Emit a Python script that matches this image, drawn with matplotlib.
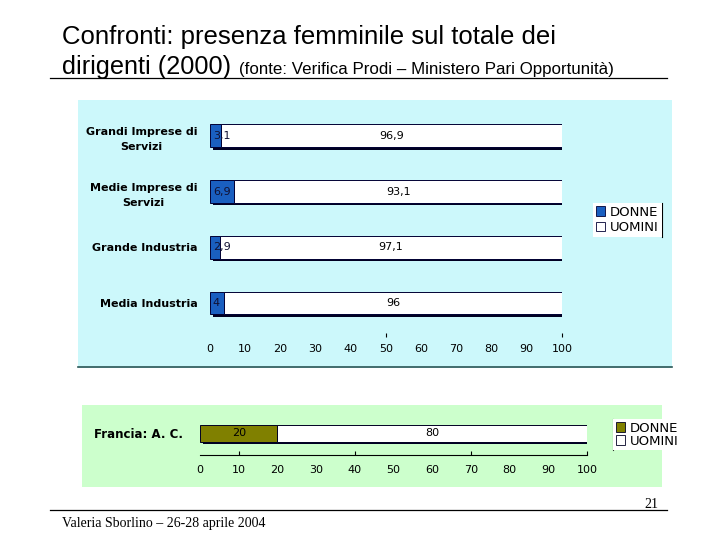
import matplotlib
matplotlib.use("Agg")
import matplotlib.pyplot as plt
import matplotlib.patheffects as pe
from matplotlib.patches import Rectangle, Patch
from matplotlib.lines import Line2D

# data
categories = ["Grandi Imprese di\nServizi", "Medie Imprese di\nServizi",
              "Grande Industria", "Media Industria"]
donne = [3.1, 6.9, 2.9, 4]
uomini = [96.9, 93.1, 97.1, 96]

fr_categories = ["Francia: A. C."]
fr_donne = [20]
fr_uomini = [80]

series_names = ["DONNE", "UOMINI"]
xticks = list(range(0, 101, 10))

W, H = 720, 540


def box(x0, y0, x1, y1):
    # pixel box (top-left origin) -> figure fraction rect
    return [x0 / W, 1 - y1 / H, (x1 - x0) / W, (y1 - y0) / H]


def fmt(v):
    return f"{v:g}".replace(".", ",")


blue = "#1a5fc0"
olive = "#808000"
shadow = [pe.SimplePatchShadow(offset=(1.8, -1.8), shadow_rgbFace="#000022", alpha=1.0), pe.Normal()]

fig = plt.figure(figsize=(7.2, 5.4), dpi=100)
fig.patch.set_facecolor("white")

# title
fig.text(62 / W, 1 - 44 / H, "Confronti: presenza femminile sul totale dei",
         fontsize=18.5, family="Liberation Sans", va="baseline")
fig.text(62 / W, 1 - 74 / H, "dirigenti (2000)",
         fontsize=18.2, family="Liberation Sans", va="baseline")
fig.text(239 / W, 1 - 74 / H, "(fonte: Verifica Prodi \u2013 Ministero Pari Opportunit\u00e0)",
         fontsize=12.2, family="Liberation Sans", va="baseline")
fig.add_artist(Line2D([50 / W, 667 / W], [1 - 78 / H] * 2, color="black", lw=0.9))

# panels
r = box(78, 100, 672, 368)
fig.add_artist(Rectangle((r[0], r[1]), r[2], r[3], transform=fig.transFigure,
                         facecolor="#ccf8fb", edgecolor="none", zorder=0))
fig.add_artist(Line2D([78 / W, 672 / W], [1 - 367 / H] * 2, color="#2b5555", lw=1.2))
r = box(82, 405, 662, 487)
fig.add_artist(Rectangle((r[0], r[1]), r[2], r[3], transform=fig.transFigure,
                         facecolor="#ccffcc", edgecolor="none", zorder=0))

# top chart
ax = fig.add_axes(box(210, 108, 562, 337))
ax.set_facecolor("none")
ypos = list(range(len(categories)))[::-1]
ax.barh(ypos, donne, height=0.41, color=blue, edgecolor="#000033", lw=0.7, path_effects=shadow)
ax.barh(ypos, uomini, left=donne, height=0.41, color="white", edgecolor="#000033", lw=0.7,
        path_effects=shadow)
for y, d, u in zip(ypos, donne, uomini):
    ax.text(0.8, y, fmt(d), ha="left", va="center", fontsize=8, color="#111133")
    ax.text(d + u / 2, y, fmt(u), ha="center", va="center", fontsize=8)
ax.set_xlim(0, 100)
ax.set_ylim(-0.61, 3.5)
ax.set_yticks(ypos)
ax.set_yticklabels(categories, fontsize=8, fontweight="bold", multialignment="center",
                   linespacing=1.7)
ax.xaxis.remove_overlapping_locs = False
ax.set_xticks(xticks)
ax.set_xticks([50, 100], minor=True)
ax.tick_params(axis="x", length=0, pad=5, labelsize=8)
ax.tick_params(axis="x", which="minor", direction="in", length=3, width=0.8)
ax.tick_params(axis="y", length=0, pad=9)
for s in ax.spines.values():
    s.set_visible(False)

leg = fig.legend(handles=[Patch(facecolor=blue, edgecolor="#000033", lw=0.6),
                          Patch(facecolor="white", edgecolor="#000033", lw=0.6)],
                 labels=series_names, loc="upper left",
                 bbox_to_anchor=(593 / W, 1 - 203 / H), fontsize=9.5,
                 frameon=True, fancybox=False, facecolor="white", edgecolor="none",
                 framealpha=1, borderpad=0.2, handlelength=0.7, handleheight=0.7,
                 handletextpad=0.4, labelspacing=0.2, borderaxespad=0)

# bottom chart
ax2 = fig.add_axes(box(200, 412, 587, 455))
ax2.set_facecolor("none")
ax2.barh([0], fr_donne, height=0.79, color=olive, edgecolor="#000022", lw=0.7, path_effects=shadow)
ax2.barh([0], fr_uomini, left=fr_donne, height=0.79, color="white", edgecolor="#000022", lw=0.7,
         path_effects=shadow)
for d, u in zip(fr_donne, fr_uomini):
    ax2.text(d / 2, 0, fmt(d), ha="center", va="center", fontsize=8)
    ax2.text(d + u / 2, 0, fmt(u), ha="center", va="center", fontsize=8)
ax2.set_xlim(0, 100)
ax2.set_ylim(-1, 1)
ax2.set_yticks([0])
ax2.set_yticklabels(fr_categories, fontsize=8.5, fontweight="bold")
ax2.xaxis.remove_overlapping_locs = False
ax2.set_xticks(xticks)
ax2.set_xticks([10, 40, 70, 100], minor=True)
ax2.tick_params(axis="x", length=0, pad=7, labelsize=8)
ax2.tick_params(axis="x", which="minor", direction="in", length=3, width=0.8)
ax2.tick_params(axis="y", length=0, pad=12)
for k, s in ax2.spines.items():
    s.set_visible(k == "bottom")
ax2.spines["bottom"].set_linewidth(0.8)

leg2 = fig.legend(handles=[Patch(facecolor=olive, edgecolor="#000022", lw=0.6),
                           Patch(facecolor="white", edgecolor="#000022", lw=0.6)],
                  labels=series_names, loc="upper left",
                  bbox_to_anchor=(613 / W, 1 - 419 / H), fontsize=9.5,
                  frameon=True, fancybox=False, facecolor="white", edgecolor="none",
                  framealpha=1, borderpad=0.2, handlelength=0.7, handleheight=0.7,
                  handletextpad=0.4, labelspacing=0.0, borderaxespad=0)

# legend border lines (right for top, left for bottom)
fig.canvas.draw()
inv = fig.transFigure.inverted()
b1 = leg.get_window_extent().transformed(inv)
fig.add_artist(Line2D([b1.x1] * 2, [b1.y0, b1.y1], color="black", lw=0.8))
b2 = leg2.get_window_extent().transformed(inv)
fig.add_artist(Line2D([b2.x0] * 2, [b2.y0, b2.y1], color="#333333", lw=0.8))

# footer
fig.add_artist(Line2D([50 / W, 667 / W], [1 - 510 / H] * 2, color="black", lw=0.9))
fig.text(658 / W, 1 - 508 / H, "21", fontsize=10, family="Liberation Serif", ha="right", va="baseline")
fig.text(62 / W, 1 - 527 / H, "Valeria Sborlino \u2013 26-28 aprile 2004",
         fontsize=10, family="Liberation Serif", va="baseline")

fig.savefig("out.png", dpi=100)
